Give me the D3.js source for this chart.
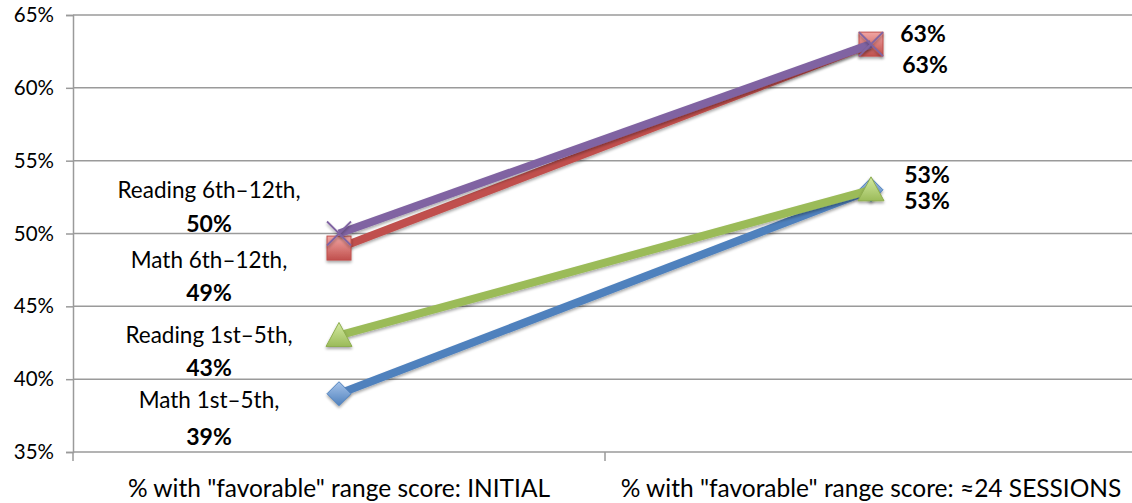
<!DOCTYPE html>
<html>
<head>
<meta charset="utf-8">
<script src="https://cdn.jsdelivr.net/npm/d3@7"></script>
<style>
  html, body { margin: 0; padding: 0; background: #fff; }
  svg { display: block; }
</style>
</head>
<body>
<svg id="chart" width="1132" height="503"></svg>
<script>
// Categories on the x axis
const categories = [
  '% with "favorable" range score: INITIAL',
  '% with "favorable" range score: ≈24 SESSIONS'
];
// Series names and values (percent)
const seriesNames = ["Math 1st–5th", "Math 6th–12th", "Reading 1st–5th", "Reading 6th–12th"];
const mathLower    = [39, 53];
const mathUpper    = [49, 63];
const readingLower = [43, 53];
const readingUpper = [50, 63];
const yTicks = [35, 40, 45, 50, 55, 60, 65];

const seriesValues = [mathLower, mathUpper, readingLower, readingUpper];
const colors  = ["#4F81BD", "#C0504D", "#9BBB59", "#8064A2"];
const light   = ["#A7C4EA", "#F1A5A3", "#D4EAA2", "#BBA6D6"];
const markers = ["diamond", "square", "triangle", "cross"];

// Label offsets (px) from each point: [dy line1, dy line2] at the start, [dx, dy] at the end
const startLabelDy = [[6, 43], [12, 45], [0, 32], [-43, -10]];
const endLabelPos  = [[56, 11], [54, 21], [56, -15], [52, -10]];

const svg = d3.select("#chart");
const margin = { left: 73, right: -5, top: 15, bottom: 51 };
const W = 1132, H = 503;
const FONT = "Lato, sans-serif";

const x = d3.scaleBand().domain(categories).range([margin.left, W - margin.right]).padding(0);
const y = d3.scaleLinear().domain([35, 65]).range([H - margin.bottom, margin.top]);

const defs = svg.append("defs");
colors.forEach((c, i) => {
  const g = defs.append("linearGradient").attr("id", "grad" + i)
    .attr("x1", 0).attr("y1", 0).attr("x2", 0).attr("y2", 1);
  g.append("stop").attr("offset", "0%").attr("stop-color", light[i]);
  g.append("stop").attr("offset", "100%").attr("stop-color", c);
});
const f = defs.append("filter").attr("id", "shadow").attr("x", "-50%").attr("y", "-50%").attr("width", "200%").attr("height", "200%");
f.append("feGaussianBlur").attr("in", "SourceAlpha").attr("stdDeviation", 1.5);
f.append("feOffset").attr("dx", 0).attr("dy", 2).attr("result", "ob");
f.append("feComponentTransfer").append("feFuncA").attr("type", "linear").attr("slope", 0.35);
const fm = f.append("feMerge");
fm.append("feMergeNode");
fm.append("feMergeNode").attr("in", "SourceGraphic");

// Gridlines
svg.append("g").selectAll("line").data(yTicks).join("line")
  .attr("x1", margin.left).attr("x2", W)
  .attr("y1", d => y(d)).attr("y2", d => y(d))
  .attr("stroke", "#9a9a9a").attr("stroke-width", 1.5);

// Y axis
const yAxis = svg.append("g").attr("transform", `translate(${margin.left},0)`)
  .call(d3.axisLeft(y).tickValues(yTicks).tickSize(7).tickPadding(12).tickFormat(d => d + "%"));
yAxis.select(".domain").attr("stroke", "#9a9a9a").attr("stroke-width", 1.5);
yAxis.selectAll(".tick line").attr("stroke", "#9a9a9a").attr("stroke-width", 1.5);
yAxis.selectAll("text").attr("font-family", FONT).attr("font-size", 20.5).attr("fill", "#000");

// X axis: category boundary ticks below the baseline
svg.append("g").selectAll("line").data([margin.left, x(categories[1])]).join("line")
  .attr("x1", d => d).attr("x2", d => d)
  .attr("y1", y(35)).attr("y2", y(35) + 9)
  .attr("stroke", "#9a9a9a").attr("stroke-width", 1.5);
svg.append("g").selectAll("text").data(categories).join("text")
  .attr("x", d => x(d) + x.bandwidth() / 2)
  .attr("y", 497)
  .attr("text-anchor", "middle")
  .attr("font-family", FONT).attr("font-size", 24.5)
  .attr("fill", "#000")
  .text(d => d);

const px = d => x(d) + x.bandwidth() / 2;
const line = d3.line().x((d, i) => px(categories[i])).y(d => y(d));

function drawMarker(g, type, i) {
  const s = 12;
  if (type === "diamond") {
    g.append("path").attr("d", `M0,${-s}L${s},0L0,${s}L${-s},0Z`)
      .attr("fill", `url(#grad${i})`).attr("stroke", colors[i]).attr("stroke-width", 1);
  } else if (type === "square") {
    g.append("rect").attr("x", -s).attr("y", -s).attr("width", 2 * s).attr("height", 2 * s)
      .attr("fill", `url(#grad${i})`).attr("stroke", colors[i]).attr("stroke-width", 1);
  } else if (type === "triangle") {
    g.append("path").attr("d", `M0,${-s - 1}L${s + 1},${s - 1}L${-s - 1},${s - 1}Z`)
      .attr("fill", `url(#grad${i})`).attr("stroke", "#8FAE4F").attr("stroke-width", 1);
  } else {
    g.append("path").attr("d", `M${-s},${-s}L${s},${s}M${-s},${s}L${s},${-s}`)
      .attr("stroke", colors[i]).attr("stroke-width", 1.8).attr("fill", "none");
  }
}

seriesValues.forEach((vals, i) => {
  const g = svg.append("g");
  g.append("path").datum(vals).attr("d", line)
    .attr("fill", "none").attr("stroke", colors[i]).attr("stroke-width", 8)
    .attr("stroke-linecap", "butt").attr("filter", "url(#shadow)");
  vals.forEach((v, j) => {
    const mg = g.append("g").attr("transform", `translate(${px(categories[j])},${y(v)})`)
      .attr("filter", "url(#shadow)");
    drawMarker(mg, markers[i], i);
  });
});

// Data labels at the first category: "Name," on one line, bold value below
const labels = svg.append("g").attr("font-family", FONT).attr("fill", "#000");
seriesValues.forEach((vals, i) => {
  const cx = px(categories[0]) - 130;
  const cy = y(vals[0]);
  labels.append("text").attr("x", cx).attr("y", cy + startLabelDy[i][0])
    .attr("dy", "0.35em").attr("text-anchor", "middle").attr("font-size", 22.5)
    .text(seriesNames[i] + ",");
  labels.append("text").attr("x", cx).attr("y", cy + startLabelDy[i][1])
    .attr("dy", "0.35em").attr("text-anchor", "middle").attr("font-size", 23)
    .attr("font-weight", "bold").text(vals[0] + "%");
  labels.append("text").attr("x", px(categories[1]) + endLabelPos[i][0]).attr("y", y(vals[1]) + endLabelPos[i][1])
    .attr("dy", "0.35em").attr("text-anchor", "middle").attr("font-size", 23)
    .attr("font-weight", "bold").text(vals[1] + "%");
});
</script>
</body>
</html>
